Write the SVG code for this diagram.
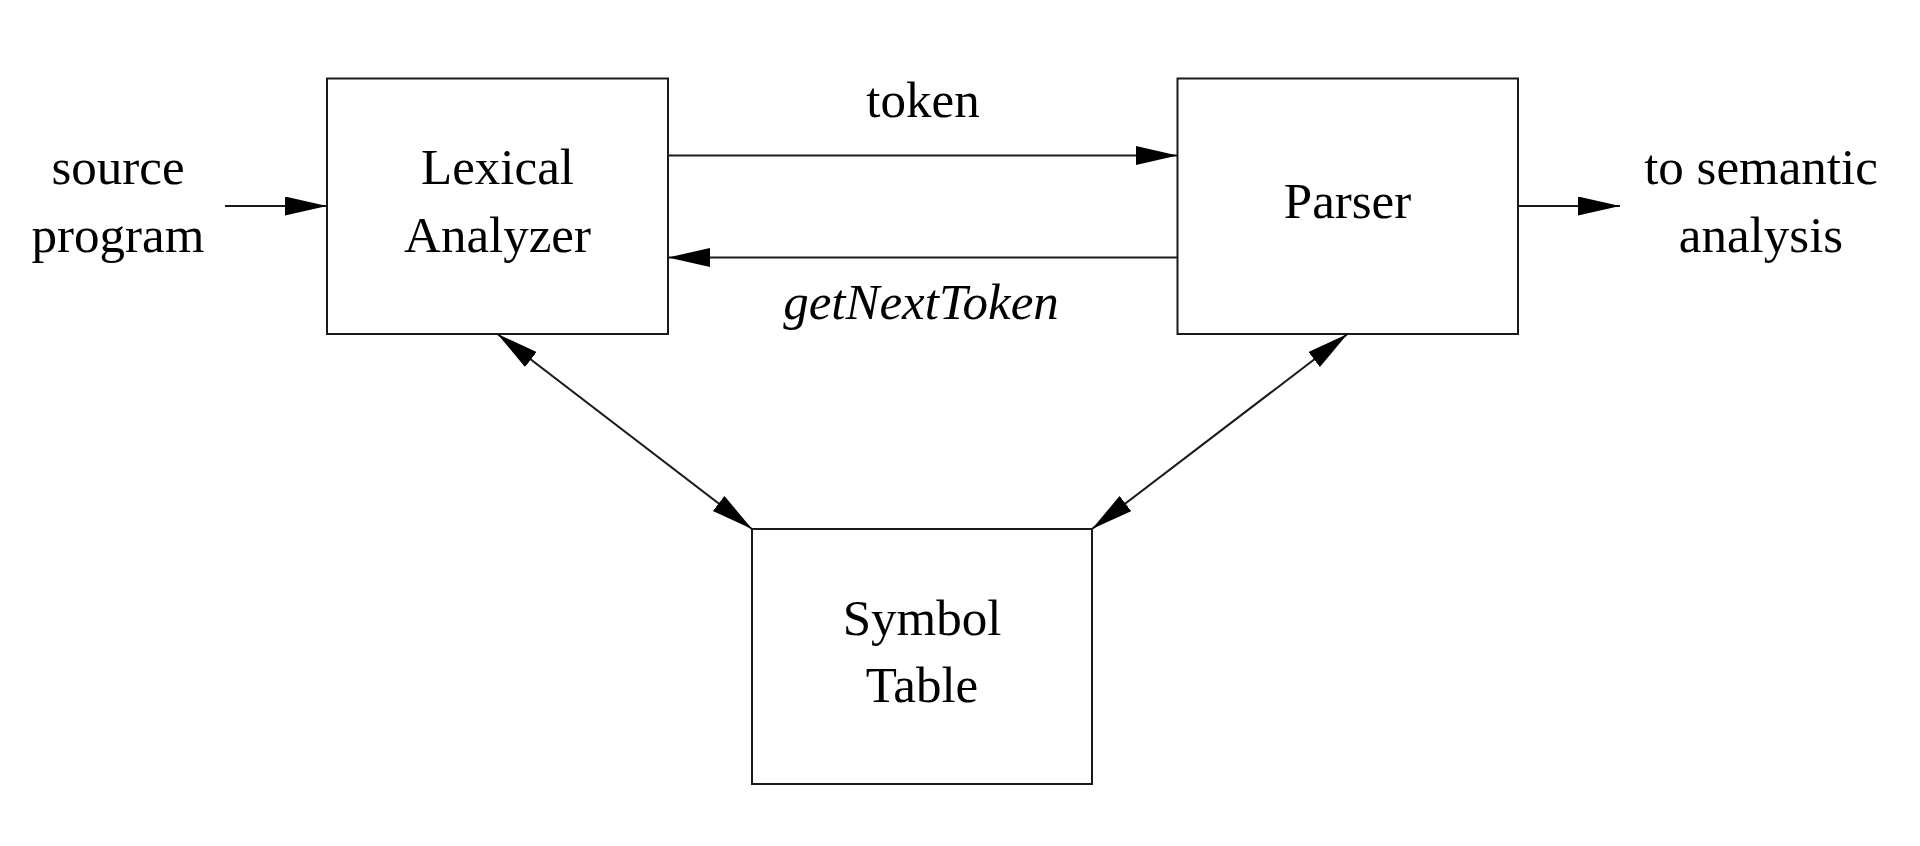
<svg xmlns="http://www.w3.org/2000/svg" width="1920" height="846" viewBox="0 0 1920 846">
<style>
.box{fill:#fff;stroke:#1a1a1a;stroke-width:2}
.conn{stroke:#1a1a1a;stroke-width:2;fill:none}
text{font-family:"Liberation Serif","Times New Roman",serif;font-size:51px;fill:#000;text-anchor:middle}
.it{font-style:italic}
</style>
<defs>
<marker id="ah" markerUnits="userSpaceOnUse" markerWidth="44" markerHeight="20" refX="42" refY="9.5" orient="auto-start-reverse">
<path d="M0,0 L42,9.5 L0,19 z" fill="#000"/>
</marker>
</defs>
<rect width="1920" height="846" fill="#fff"/>
<g id="lexical">
<rect class="box" x="327" y="78.5" width="341" height="255.5"/>
<text x="497.5" y="184">Lexical</text>
<text x="497.5" y="252">Analyzer</text>
</g>
<g id="parser">
<rect class="box" x="1177.5" y="78.5" width="340.5" height="255.5"/>
<text x="1347.5" y="218">Parser</text>
</g>
<g id="symbol">
<rect class="box" x="752" y="529" width="340" height="255"/>
<text x="922" y="635">Symbol</text>
<text x="922" y="702">Table</text>
</g>
<g id="source">
<text x="118" y="184">source</text>
<text x="118" y="252">program</text>
</g>
<g id="semantic">
<text x="1761" y="184">to semantic</text>
<text x="1761" y="252">analysis</text>
</g>
<g id="connectors">
<line class="conn" x1="225" y1="206" x2="327" y2="206" marker-end="url(#ah)"/>
<line class="conn" x1="668" y1="155.5" x2="1177.5" y2="155.5" marker-end="url(#ah)"/>
<line class="conn" x1="1177.5" y1="257.5" x2="668" y2="257.5" marker-end="url(#ah)"/>
<line class="conn" x1="1518" y1="206" x2="1620" y2="206" marker-end="url(#ah)"/>
<line class="conn" x1="497.5" y1="334" x2="752" y2="529" marker-start="url(#ah)" marker-end="url(#ah)"/>
<line class="conn" x1="1347.5" y1="334" x2="1092" y2="529" marker-start="url(#ah)" marker-end="url(#ah)"/>
<text x="923" y="117">token</text>
<text class="it" x="921" y="319">getNextToken</text>
</g>
</svg>
